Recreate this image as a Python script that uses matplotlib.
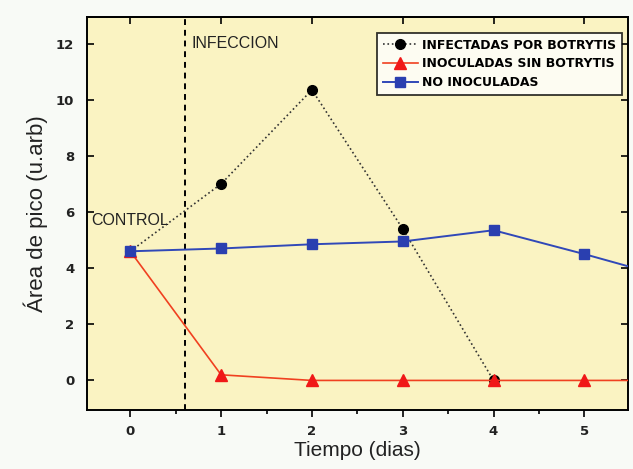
import matplotlib
matplotlib.use("Agg")
import matplotlib.pyplot as plt
from matplotlib.ticker import MultipleLocator

plt.rcParams['font.family'] = ['Liberation Sans', 'DejaVu Sans']

# dias de muestreo y areas de pico
dias_inf = [0, 1, 2, 3, 4]
area_inf = [4.6, 7.0, 10.35, 5.4, 0.0]

dias_ino = [0, 1, 2, 3, 4, 5, 6]
area_ino = [4.6, 0.2, 0.0, 0.0, 0.0, 0.0, 0.0]

dias_no = [0, 1, 2, 3, 4, 5, 6]
area_no = [4.6, 4.7, 4.85, 4.95, 5.35, 4.5, 3.6]

x_infeccion = 0.6
ticks_x = [0, 1, 2, 3, 4, 5]

fig = plt.figure(figsize=(6.33, 4.69), dpi=100, facecolor='#f8faf6')
ax = fig.add_axes((0.137, 0.126, 0.855, 0.838), facecolor='#faf3c2')

ax.plot(dias_inf, area_inf, color='#333333', linestyle=':', linewidth=1.2,
        marker='o', markersize=7, markerfacecolor='black', markeredgecolor='black',
        label='INFECTADAS POR BOTRYTIS', zorder=3)
ax.plot(dias_ino, area_ino, color='#f04020', linestyle='-', linewidth=1.2,
        marker='^', markersize=8, markerfacecolor='#f01818', markeredgecolor='#f01818',
        label='INOCULADAS SIN BOTRYTIS', zorder=4)
ax.plot(dias_no, area_no, color='#3048b8', linestyle='-', linewidth=1.4,
        marker='s', markersize=7, markerfacecolor='#2a3fb0', markeredgecolor='#2a3fb0',
        label='NO INOCULADAS', zorder=5)

ax.axvline(x_infeccion, color='black', linestyle=(0, (3, 2.5)), linewidth=1.4, zorder=2)
ax.text(x_infeccion + 0.07, 12.0, 'INFECCION', fontsize=11.5, va='center', color='#222222')
ax.text(-0.43, 5.7, 'CONTROL', fontsize=11.5, va='center', color='#222222')

ax.set_xlim(-0.48, 5.48)
ax.set_ylim(-1.05, 12.95)
ax.xaxis.set_major_locator(MultipleLocator(1))
ax.xaxis.set_minor_locator(MultipleLocator(0.5))
ax.yaxis.set_major_locator(MultipleLocator(2))

ax.tick_params(axis='x', which='both', direction='out', labelsize=9.5, pad=6)
ax.tick_params(axis='x', which='major', length=5, width=1.2)
ax.tick_params(axis='x', which='minor', length=3, width=1.2)
ax.tick_params(axis='y', which='major', direction='in', right=True, length=5,
               width=1.2, labelsize=9.5, pad=9)
for lab in ax.get_xticklabels() + ax.get_yticklabels():
    lab.set_fontweight('bold')
    lab.set_family('DejaVu Sans')
    lab.set_color('#222222')
for s in ax.spines.values():
    s.set_linewidth(1.4)

# ticks interiores en el borde superior
top = ax.secondary_xaxis('top')
top.set_xticks(ticks_x)
top.tick_params(direction='in', length=5, width=1.2, labeltop=False)
top.spines['top'].set_linewidth(1.4)

ax.set_xlabel('Tiempo (dias)', fontsize=15, labelpad=2, color='#222222')
ax.set_ylabel('Área de pico (u.arb)', fontsize=16, labelpad=6, color='#222222')

leg = ax.legend(loc='upper right', bbox_to_anchor=(0.989, 0.96), borderaxespad=0,
                frameon=True, fancybox=False, edgecolor='black', facecolor='white',
                handlelength=2.8, handletextpad=0.3, borderpad=0.5, labelspacing=0.45,
                prop={'family': 'DejaVu Sans', 'weight': 'bold', 'size': 9})
leg.get_frame().set_linewidth(1.3)

fig.savefig('out.png', dpi=100, facecolor=fig.get_facecolor())
